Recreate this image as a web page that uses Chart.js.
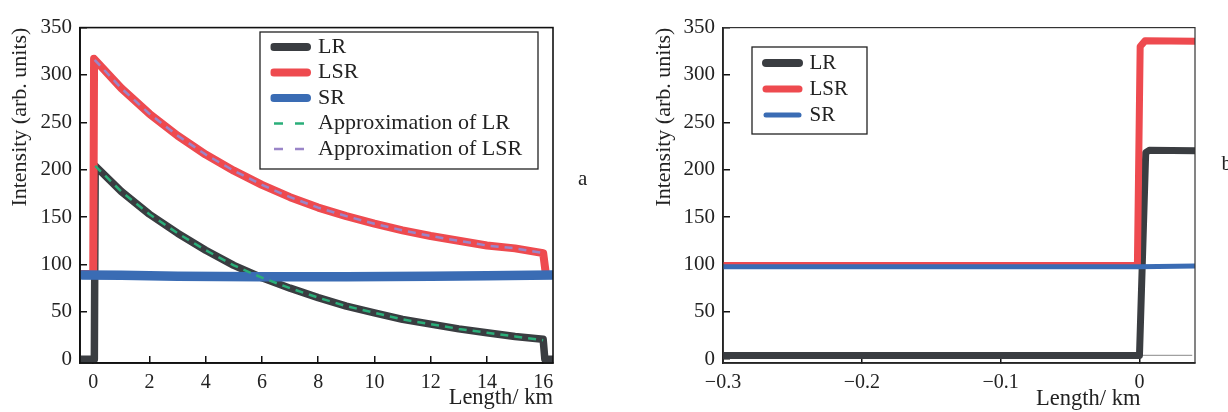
<!DOCTYPE html>
<html><head><meta charset="utf-8">
<script src="https://cdn.jsdelivr.net/npm/chart.js@4/dist/chart.umd.min.js"></script>
<style>
html,body{margin:0;padding:0;background:#fff;width:1228px;height:412px;overflow:hidden}
#wrap{position:relative;width:1228px;height:412px}
canvas{position:absolute;top:0}
#ca{left:0}
#cb{left:614px}
</style></head><body>
<div id="wrap"><canvas id="ca" width="614" height="412"></canvas><canvas id="cb" width="614" height="412"></canvas></div>
<script>
// ---------- Panel a data (Length in km, intensity in arb. units) ----------
const aLrKm        = [-0.47, 0.04, 0.07, 1, 2, 3, 4, 5, 6, 7, 8, 9, 10, 11, 12, 13, 14, 15, 16, 16.06, 16.35];
const aLrIntensity = [0, 0, 204, 177, 153, 133, 115, 99, 86, 75, 65, 56, 49, 42, 37, 32, 28, 24, 21, 0, 0];
const aLsrKm        = [-0.47, 0.0, 0.03, 1, 2, 3, 4, 5, 6, 7, 8, 9, 10, 11, 12, 13, 14, 15, 16, 16.1, 16.35];
const aLsrIntensity = [90, 90, 317, 286, 259, 236, 216, 199, 184, 171, 160, 151, 143, 136, 130, 125, 120, 117, 112, 89, 89];
const aSrKm        = [-0.4, 1, 3, 6, 9, 12, 14, 16.35];
const aSrIntensity = [89, 88.5, 87.5, 87, 87, 87.5, 88, 89];
const aApproxLrKm        = [0.07, 1, 2, 3, 4, 5, 6, 7, 8, 9, 10, 11, 12, 13, 14, 15, 16];
const aApproxLrIntensity = [204, 177, 153, 133, 115, 99, 86, 75, 65, 56, 49, 42, 37, 32, 28, 24, 20];
const aApproxLsrKm        = [0.05, 1, 2, 3, 4, 5, 6, 7, 8, 9, 10, 11, 12, 13, 14, 15, 16];
const aApproxLsrIntensity = [316, 286, 259, 236, 216, 199, 184, 171, 160, 151, 143, 136, 130, 125, 120, 117, 112];

// ---------- Panel b data ----------
const bLrKm        = [-0.3, 0.0, 0.0045, 0.007, 0.04];
const bLrIntensity = [4, 4, 218, 220.5, 220];
const bLsrKm        = [-0.3, -0.0015, 0.0005, 0.004, 0.04];
const bLsrIntensity = [99, 99, 330, 336, 335.5];
const bSrKm        = [-0.3, -0.15, 0.0, 0.04];
const bSrIntensity = [97.5, 97.5, 97.5, 98.5];
const bBaseKm        = [0.002, 0.038];
const bBaseIntensity = [4, 4];

// ---------- tick values ----------
const aXTicks = [0, 2, 4, 6, 8, 10, 12, 14, 16];
const bXTicks = [-0.3, -0.2, -0.1, 0];
const bXTickLabels = ['\u22120.3', '\u22120.2', '\u22120.1', '0'];
const yTicks = [0, 50, 100, 150, 200, 250, 300, 350];
const seriesNames = ['LR', 'LSR', 'SR', 'Approximation of LR', 'Approximation of LSR'];
const yTitle = 'Intensity (arb. units)';
const xTitle = 'Length/ km';

const FF = "'Liberation Serif','DejaVu Serif','Times New Roman',serif";
const C = {lr:'#3a3d41', lsr:'#ee4a4f', sr:'#3a6cb4', alr:'#2aae79', alsr:'#9a85c8', base:'#a0a0a0', ink:'#222'};

function pts(xs, ys){ return xs.map((x,i)=>({x:x, y:ys[i]})); }
function ds(label, xs, ys, color, width, order, extra){
  return Object.assign({label:label, data:pts(xs,ys), borderColor:color, backgroundColor:color,
    borderWidth:width, pointRadius:0, pointHoverRadius:0, tension:0, fill:false,
    borderCapStyle:'round', borderJoinStyle:'round', order:order}, extra||{});
}
function setTicks(values){ return function(s){ s.ticks = values.map(v=>({value:v})); }; }

const decor = {
  id:'decor',
  beforeDraw(chart, args, o){
    const lg = chart.legend;
    if (lg && o.legendAt){
      const w = lg.width, h = lg.height;
      lg.left = o.legendAt.x; lg.top = o.legendAt.y; lg.right = lg.left + w; lg.bottom = lg.top + h;
    }
  },
  afterDraw(chart, args, o){
    const ctx = chart.ctx, ca = chart.chartArea;
    ctx.save();
    ctx.strokeStyle = o.frameColor; ctx.lineWidth = o.frameWidth;
    ctx.strokeRect(ca.left, ca.top, ca.right-ca.left, ca.bottom-ca.top);
    if (o.legendBox){
      const b = o.legendBox;
      ctx.lineWidth = 1.3; ctx.strokeStyle = C.ink;
      ctx.strokeRect(b.x, b.y, b.w, b.h);
    }
    (o.texts||[]).forEach(t=>{
      ctx.font = t.font; ctx.fillStyle = C.ink; ctx.textAlign = t.align; ctx.textBaseline = t.baseline;
      const x = (t.xValue !== undefined) ? chart.scales.x.getPixelForValue(t.xValue) + (t.dx||0) : t.x;
      ctx.fillText(t.text, x, t.y);
    });
    ctx.restore();
  }
};

function legendLabels(chart){
  return chart.data.datasets.map((d,i)=>({
    text:d.label, fillStyle:d.borderColor, strokeStyle:d.borderColor, fontColor:C.ink,
    lineWidth:d.legendWidth, lineDash:d.legendDash||[], lineCap:d.legendCap||'round',
    pointStyle:'line', hidden:false, datasetIndex:i
  })).filter(it=>it.text);
}

function axisCommon(){
  return {
    grid:{drawOnChartArea:false, tickLength:-7, color:'#111', lineWidth:1.5},
    border:{color:'#111', width:1.8},
  };
}

// ---------- Chart a ----------
new Chart(document.getElementById('ca'), {
  type:'line',
  data:{datasets:[
    ds(seriesNames[0], aLrKm, aLrIntensity, C.lr, 7.5, 5, {legendWidth:8}),
    ds(seriesNames[1], aLsrKm, aLsrIntensity, C.lsr, 8, 4, {legendWidth:8}),
    ds(seriesNames[2], aSrKm, aSrIntensity, C.sr, 9.5, 3, {legendWidth:8}),
    ds(seriesNames[3], aApproxLrKm, aApproxLrIntensity, C.alr, 2.5, 2, {borderDash:[8,6], borderCapStyle:'butt', legendWidth:2.5, legendDash:[9,12], legendCap:'butt'}),
    ds(seriesNames[4], aApproxLsrKm, aApproxLsrIntensity, C.alsr, 2.5, 1, {borderDash:[8,6], borderCapStyle:'butt', legendWidth:2.5, legendDash:[9,12], legendCap:'butt'}),
  ]},
  options:{
    responsive:false, animation:false, devicePixelRatio:1,
    layout:{padding:{left:0, top:18, right:61, bottom:0}},
    plugins:{
      tooltip:{enabled:false},
      legend:{display:true, position:'chartArea', align:'start',
        labels:{usePointStyle:true, pointStyleWidth:33, padding:3.5, color:C.ink,
          font:{family:FF, size:22}, generateLabels:legendLabels}},
      decor:{frameColor:'#111', frameWidth:1.6, legendAt:{x:270.5, y:32.5},
        legendBox:{x:260, y:32, w:278, h:137},
        texts:[{text:'a', x:578, y:185, align:'left', baseline:'alphabetic', font:'21px '+FF}]}
    },
    scales:{
      x:Object.assign(axisCommon(), {type:'linear', min:-0.47, max:16.35,
        afterBuildTicks:setTicks(aXTicks),
        ticks:{padding:15, maxRotation:0, autoSkip:false, color:C.ink, font:{family:FF, size:20}},
        title:{display:true, text:xTitle, align:'end', color:C.ink, font:{family:FF, size:22.5}, padding:{top:0, bottom:0}},
        afterFit(s){ s.height = 49; }}),
      y:Object.assign(axisCommon(), {type:'linear', min:-4, max:350,
        afterBuildTicks:setTicks(yTicks),
        ticks:{padding:15, autoSkip:false, color:C.ink, font:{family:FF, size:21}},
        title:{display:true, text:yTitle, align:'end', color:C.ink, font:{family:FF, size:22}, padding:{top:7, bottom:0}},
        afterFit(s){ s.width = 80; }})
    }
  },
  plugins:[decor]
});

// ---------- Chart b ----------
new Chart(document.getElementById('cb'), {
  type:'line',
  data:{datasets:[
    ds(seriesNames[0], bLrKm, bLrIntensity, C.lr, 7, 3, {legendWidth:8}),
    ds(seriesNames[1], bLsrKm, bLsrIntensity, C.lsr, 7, 2, {legendWidth:7}),
    ds(seriesNames[2], bSrKm, bSrIntensity, C.sr, 5, 1, {legendWidth:5}),
    ds('', bBaseKm, bBaseIntensity, C.base, 1.2, 6, {borderCapStyle:'butt'}),
  ]},
  options:{
    responsive:false, animation:false, devicePixelRatio:1,
    layout:{padding:{left:0, top:22, right:33, bottom:0}},
    plugins:{
      tooltip:{enabled:false},
      legend:{display:true, position:'chartArea', align:'start',
        labels:{usePointStyle:true, pointStyleWidth:33, padding:5, color:C.ink,
          font:{family:FF, size:21}, generateLabels:legendLabels}},
      decor:{frameColor:'#333', frameWidth:1.2, legendAt:{x:147, y:47.5},
        legendBox:{x:138, y:47, w:115, h:87},
        texts:[
          {text:'b', x:607.5, y:170, align:'left', baseline:'alphabetic', font:'21px '+FF},
          {text:xTitle, xValue:0, dx:1, y:399, align:'right', baseline:'middle', font:'22.5px '+FF}
        ]}
    },
    scales:{
      x:Object.assign(axisCommon(), {type:'linear', min:-0.3, max:0.04,
        afterBuildTicks:setTicks(bXTicks),
        ticks:{padding:15, maxRotation:0, autoSkip:false, color:C.ink, font:{family:FF, size:20},
          callback:(v, i)=>bXTickLabels[i]},
        title:{display:false},
        afterFit(s){ s.height = 49; }}),
      y:Object.assign(axisCommon(), {type:'linear', min:-4, max:350,
        afterBuildTicks:setTicks(yTicks),
        ticks:{padding:15, autoSkip:false, color:C.ink, font:{family:FF, size:21}},
        title:{display:true, text:yTitle, align:'end', color:C.ink, font:{family:FF, size:22}, padding:{top:37, bottom:0}},
        afterFit(s){ s.width = 109; }})
    }
  },
  plugins:[decor]
});
</script>
</body></html>
